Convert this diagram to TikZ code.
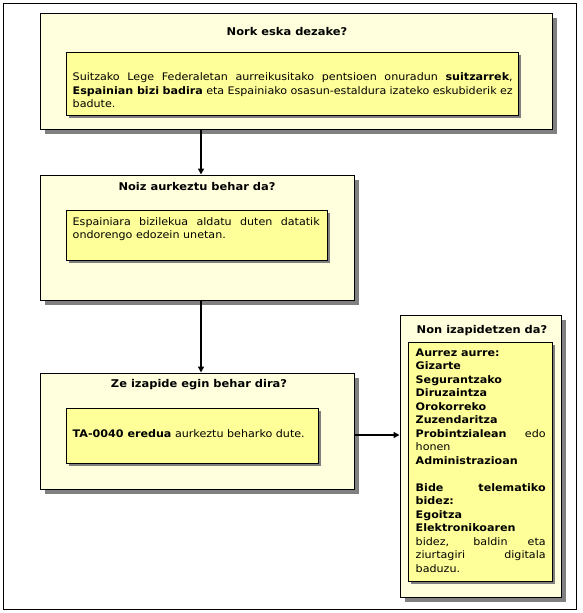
\documentclass[tikz,border=0pt]{standalone}
\usepackage{fontspec}
\setmainfont[FakeStretch=1.07]{DejaVu Sans}
\usetikzlibrary{shadows}
\usetikzlibrary{arrows.meta}
\usetikzlibrary{positioning}

\definecolor{paleyellow}{HTML}{FFFFDD}
\definecolor{boxyellow}{HTML}{FFFF99}
\definecolor{shadowgray}{HTML}{808080}

\begin{document}
\begin{tikzpicture}[x=1pt,y=-1pt]
	\tikzset{outerbox/.style = {shape=rectangle,draw,line width=1pt,fill=paleyellow,
			drop shadow={shadow xshift=5pt,shadow yshift=-5pt,fill=shadowgray,opacity=1}}}
	\tikzset{innerbox/.style = {shape=rectangle,draw,line width=1pt,fill=boxyellow,
			drop shadow={shadow xshift=3pt,shadow yshift=-3pt,fill=shadowgray,opacity=1}}}
	\tikzset{titletext/.style = {font=\fontsize{10.7}{13}\selectfont\bfseries, inner sep=0pt}}
	\tikzset{bodytext/.style = {font=\fontsize{10.4}{13.5}\selectfont, align=justify,
			inner sep=0pt, anchor=north west}}
	\tikzset{edge/.style = {-{Triangle[length=6pt,width=6pt]}, line width=1.5pt}}

	\useasboundingbox (0,0) rectangle (583,613);
	\draw[line width=0.8pt] (3,3) rectangle (576,609);

	% boxes
	\node[outerbox, minimum width=512pt, minimum height=116pt] (nork) at (296,71) {};
	\node[outerbox, minimum width=314pt, minimum height=125pt] (noiz) at (197,237.5) {};
	\node[outerbox, minimum width=314pt, minimum height=116pt] (ze) at (197,431) {};
	\node[outerbox, minimum width=161pt, minimum height=282pt] (non) at (480.5,456) {};

	\node[innerbox, minimum width=452pt, minimum height=63pt] (nork in) at (292,83.5) {};
	\node[innerbox, minimum width=261pt, minimum height=50pt] (noiz in) at (196.5,235) {};
	\node[innerbox, minimum width=252pt, minimum height=55pt] (ze in) at (192,435.5) {};
	\node[innerbox, minimum width=144pt, minimum height=239pt] (non in) at (480,461.5) {};

	% titles
	\node[titletext] (nork title) at (287,32) {Nork eska dezake?};
	\node[titletext] (noiz title) at (197,187) {Noiz aurkeztu behar da?};
	\node[titletext] (ze title) at (199,385) {Ze izapide egin behar dira?};
	\node[titletext] (non title) at (482,331) {Non izapidetzen da?};

	% texts
	\node[bodytext, text width=440pt] (nork text) at ([xshift=7pt,yshift=-21pt]nork in.north west)
		{Suitzako Lege Federaletan aurreikusitako pentsioen onuradun \textbf{suitzarrek},\linebreak
		\textbf{Espainian bizi badira} eta Espainiako osasun-estaldura izateko eskubiderik ez\linebreak
		badute.};
	\node[bodytext, text width=247pt] (noiz text) at ([xshift=7pt,yshift=-7.5pt]noiz in.north west)
		{Espainiara bizilekua aldatu duten datatik\linebreak ondorengo edozein unetan.};
	\node[bodytext, text width=238pt] (ze text) at ([xshift=7pt,yshift=-22pt]ze in.north west)
		{\textbf{TA-0040 eredua} aurkeztu beharko dute.};
	\node[bodytext, text width=130pt] (non text) at ([xshift=8pt,yshift=-7pt]non in.north west)
		{\textbf{Aurrez aurre:}\\ \textbf{Gizarte}\\ \textbf{Segurantzako}\\ \textbf{Diruzaintza}\\
		\textbf{Orokorreko}\\ \textbf{Zuzendaritza}\\ \textbf{Probintzialean} edo\linebreak
		honen\\ \textbf{Administrazioan}\\[13.5pt]
		\textbf{Bide telematiko}\linebreak \textbf{bidez:}\\ \textbf{Egoitza}\\
		\textbf{Elektronikoaren}\\ bidez, baldin eta\linebreak ziurtagiri digitala\linebreak baduzu.};

	%edges
	\coordinate (axis) at (201,0);
	\coordinate (level) at (0,435);
	\draw[edge] (nork.south -| axis) -- (noiz.north -| axis);
	\draw[edge] (noiz.south -| axis) -- (ze.north -| axis);
	\draw[edge] (ze.east |- level) -- (non.west |- level);
\end{tikzpicture}
\end{document}
